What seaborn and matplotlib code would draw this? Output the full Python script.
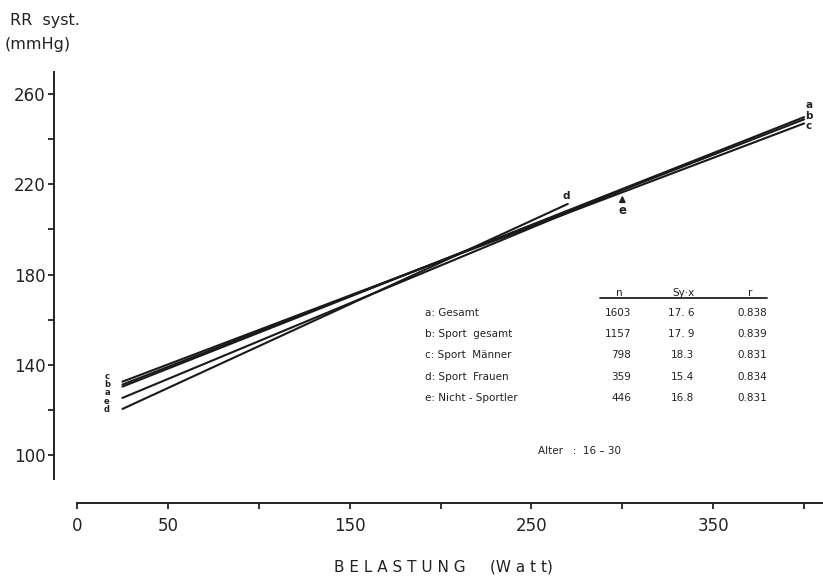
import matplotlib
matplotlib.use("Agg")
import matplotlib.pyplot as plt
import numpy as np
import pandas as pd
import seaborn as sns

# Regression lines: systolic blood pressure vs. exercise load
groups = ["a", "b", "c", "d", "e"]
x_start = [25, 25, 25, 25, 25]
x_end = [400, 400, 400, 270, 300]
y_start = [130.3, 131.2, 132.5, 120.4, 125.3]
y_end = [249.8, 248.8, 247.0, 211.3, 217.5]

# Statistics table
names = ["a: Gesamt", "b: Sport  gesamt", "c: Sport  Männer", "d: Sport  Frauen", "e: Nicht - Sportler"]
n_vals = [1603, 1157, 798, 359, 446]
syx_vals = ["17. 6", "17. 9", "18.3", "15.4", "16.8"]
r_vals = ["0.838", "0.839", "0.831", "0.834", "0.831"]

x_ticks = [0, 50, 100, 150, 200, 250, 300, 350, 400]
x_ticklabels = ["0", "50", "", "150", "", "250", "", "350", ""]
y_ticks = [100, 140, 180, 220, 260]

rows = []
for g, x0, x1, y0, y1 in zip(groups, x_start, x_end, y_start, y_end):
    rows.append({"group": g, "watt": x0, "rr": y0})
    rows.append({"group": g, "watt": x1, "rr": y1})
df = pd.DataFrame(rows)

sns.set_theme(style="white")
plt.rcParams["font.family"] = ["DejaVu Sans"]

fig = plt.figure(figsize=(8.23, 5.76), dpi=100)
ax = fig.add_axes([54 / 823, 1 - 503 / 576, 1 - 54 / 823, (503 - 72) / 576])
ax.set_xlim(-12.65, 410.4)
ax.set_ylim(78.7, 269.8)

sns.lineplot(data=df, x="watt", y="rr", units="group", estimator=None,
             color="#1a1a1a", lw=1.5, ax=ax, legend=False)

# axes styling
for s in ["top", "right"]:
    ax.spines[s].set_visible(False)
ax.spines["left"].set_bounds(89.4, 269.8)
ax.spines["bottom"].set_bounds(0, 410.4)
for s in ["left", "bottom"]:
    ax.spines[s].set_color("#222222")
    ax.spines[s].set_linewidth(1.4)

ax.set_xticks(x_ticks)
ax.set_xticklabels(x_ticklabels)
ax.set_yticks(y_ticks)
ax.set_yticks([120, 160, 200, 240], minor=True)
ax.tick_params(axis="both", which="both", direction="out", length=4, width=1.3,
               color="#222222", labelsize=12, labelcolor="#222222")
ax.tick_params(axis="x", which="major", pad=6, bottom=True, length=4)
ax.tick_params(axis="y", which="both", left=True, pad=2)
ax.set_xlabel("")
ax.set_ylabel("")

# axis titles
fig.text(10 / 823, 1 - 20 / 576, "RR  syst.", fontsize=11.5, color="#222222", va="center", ha="left")
fig.text(5 / 823, 1 - 45 / 576, "(mmHg)", fontsize=11.5, color="#222222", va="center", ha="left")
fig.text(443 / 823, 1 - 567 / 576, "B E L A S T U N G     (W a t t)", fontsize=11,
         color="#222222", va="center", ha="center")

# line labels
lab_kw = dict(fontsize=7.5, color="#222222", ha="center", va="center", fontweight="bold")
left_kw = dict(lab_kw, fontsize=6)
for g, yy in zip(["c", "b", "a", "e", "d"], [135.0, 131.3, 127.6, 123.9, 120.0]):
    ax.text(16.5, yy, g, **left_kw)
for g, yy in zip(["a", "b", "c"], [255.1, 250.3, 245.8]):
    ax.text(402.5, yy, g, **lab_kw)
ax.text(269, 214.8, "d", **lab_kw)
ax.annotate("", xy=(300, 216.3), xytext=(300, 211.0),
            arrowprops=dict(arrowstyle="-|>", color="#222222", lw=1.2, mutation_scale=9))
ax.text(300, 208.3, "e", **dict(lab_kw, fontsize=8.5))

# statistics table
tx = lambda px: (px - 77) / 1.8175
ty = lambda py: 100 + (455 - py) / 2.256
tk = dict(fontsize=7.5, color="#222222", va="center")
ax.text(tx(619), ty(293), "n", ha="center", **tk)
ax.text(tx(683), ty(293), "Sy·x", ha="center", **tk)
ax.text(tx(750), ty(293), "r", ha="center", **tk)
ax.plot([tx(600), tx(767)], [ty(298), ty(298)], color="#222222", lw=1.3)
row_y = [313, 334, 355, 377, 398]
for nm, nv, sv, rv, py in zip(names, n_vals, syx_vals, r_vals, row_y):
    ax.text(tx(425), ty(py), nm, ha="left", **tk)
    ax.text(tx(631), ty(py), str(nv), ha="right", **tk)
    ax.text(tx(694), ty(py), sv, ha="right", **tk)
    ax.text(tx(767), ty(py), rv, ha="right", **tk)
ax.text(tx(538), ty(451), "Alter   :  16 – 30", ha="left", **tk)

fig.savefig("out.png", dpi=100)
